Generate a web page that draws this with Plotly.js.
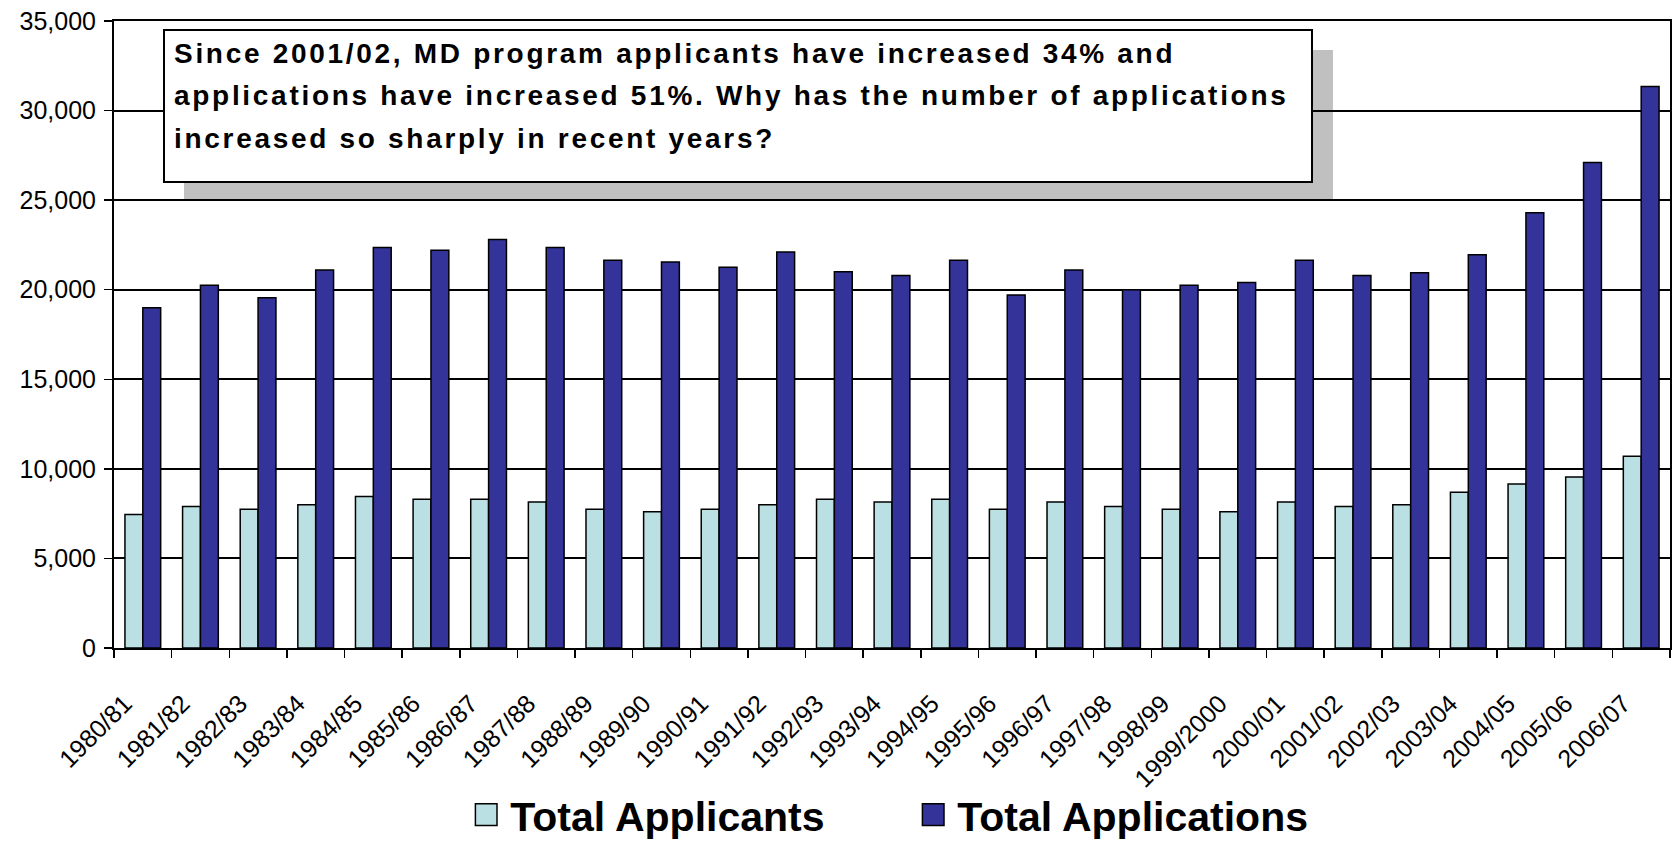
<!DOCTYPE html>
<html>
<head>
<meta charset="utf-8">
<script src="https://cdn.plot.ly/plotly-3.0.1.min.js"></script>
<style>
  html, body { margin: 0; padding: 0; background: #ffffff; }
  #chart { width: 1673px; height: 841px; }
</style>
</head>
<body>
<div id="chart"></div>
<script>
// ---- data ----
const categories = ['1980/81','1981/82','1982/83','1983/84','1984/85','1985/86','1986/87','1987/88','1988/89','1989/90',
  '1990/91','1991/92','1992/93','1993/94','1994/95','1995/96','1996/97','1997/98','1998/99','1999/2000',
  '2000/01','2001/02','2002/03','2003/04','2004/05','2005/06','2006/07'];
const applicants = [7450, 7900, 7750, 8000, 8450, 8300, 8300, 8150, 7750, 7600,
  7750, 8000, 8300, 8150, 8300, 7750, 8150, 7900, 7750, 7600,
  8150, 7900, 8000, 8700, 9150, 9550, 10700];
const applications = [19000, 20250, 19550, 21100, 22350, 22200, 22800, 22350, 21650, 21550,
  21250, 22100, 21000, 20800, 21650, 19700, 21100, 20000, 20250, 20400,
  21650, 20800, 20950, 21950, 24300, 27100, 31350];
const seriesNames = ['Total Applicants', 'Total Applications'];
const noteLines = [
  'Since 2001/02, MD program applicants have increased 34% and',
  'applications have increased 51%. Why has the number of applications',
  'increased so sharply in recent years?'
];
const yTicks = [0, 5000, 10000, 15000, 20000, 25000, 30000, 35000];

// ---- layout helpers (pixel -> paper) ----
const W = 1673, H = 841;
const M = {l: 114, r: 3, t: 21, b: 193, autoexpand: false};
const PW = W - M.l - M.r, PH = H - M.t - M.b;
const px = v => (v - M.l) / PW;
const py = v => (H - M.b - v) / PH;

const FONT = 'Liberation Sans, Arial, sans-serif';

const traces = [
  {
    type: 'bar', name: seriesNames[0], x: categories, y: applicants,
    marker: {color: '#BBE0E3', line: {color: '#000000', width: 1.5}}
  },
  {
    type: 'bar', name: seriesNames[1], x: categories, y: applications,
    marker: {color: '#333399', line: {color: '#000000', width: 1.5}}
  }
];

const annotations = noteLines.map((t, i) => ({
  xref: 'paper', yref: 'paper',
  x: px(172), y: py([53, 96, 138][i]),
  xanchor: 'left', yanchor: 'middle', align: 'left',
  text: t, showarrow: false,
  font: {family: FONT, size: 28, weight: 700, color: '#000000'}
}));

const layout = {
  width: W, height: H,
  margin: M,
  paper_bgcolor: '#ffffff',
  plot_bgcolor: 'rgba(0,0,0,0)',
  barmode: 'group',
  bargap: 0.38,
  bargroupgap: 0,
  showlegend: true,
  legend: {
    orientation: 'h',
    x: 0.5162, xanchor: 'center',
    y: py(815), yanchor: 'middle',
    bgcolor: 'rgba(0,0,0,0)',
    font: {family: FONT, size: 41, weight: 700, color: '#000000'},
    entrywidth: 402, entrywidthmode: 'pixels',
    traceorder: 'normal'
  },
  xaxis: {
    type: 'category',
    automargin: false,
    showgrid: false,
    showline: true, linecolor: '#000000', linewidth: 2, mirror: true,
    ticks: 'outside', tickson: 'boundaries', ticklen: 8, tickwidth: 1.5, tickcolor: '#000000',
    tickangle: -45,
    ticklabelstandoff: 29,
    ticklabelshift: -18,
    tickfont: {family: FONT, size: 25, color: '#000000'}
  },
  yaxis: {
    range: [0, 35000],
    automargin: false,
    tickvals: yTicks,
    tickformat: ',d',
    showgrid: true, gridcolor: '#000000', gridwidth: 2,
    zeroline: false,
    showline: true, linecolor: '#000000', linewidth: 2, mirror: true,
    ticks: 'outside', ticklen: 8, tickwidth: 1.5, tickcolor: '#000000',
    ticklabelstandoff: 3,
    tickfont: {family: FONT, size: 25, color: '#000000'}
  },
  shapes: [
    { // shadow
      type: 'rect', xref: 'paper', yref: 'paper', layer: 'below',
      x0: px(184), x1: px(1333), y0: py(201), y1: py(50),
      fillcolor: '#C0C0C0', line: {width: 0}
    },
    { // note box
      type: 'rect', xref: 'paper', yref: 'paper', layer: 'above',
      x0: px(164), x1: px(1312), y0: py(182), y1: py(30),
      fillcolor: '#ffffff', line: {color: '#000000', width: 2}
    }
  ],
  annotations: annotations
};

Plotly.newPlot('chart', traces, layout, {staticPlot: true, displayModeBar: false}).then(gd => {
  gd.querySelectorAll('.legend .legendpoints path').forEach(p => {
    p.setAttribute('transform', 'translate(16,0) scale(1.8)');
    p.style.vectorEffect = 'non-scaling-stroke';
    p.style.strokeWidth = '1.5px';
  });
  gd.querySelectorAll('.annotation-text').forEach(t => {
    t.style.letterSpacing = '2.7px';
  });
});
</script>
</body>
</html>
